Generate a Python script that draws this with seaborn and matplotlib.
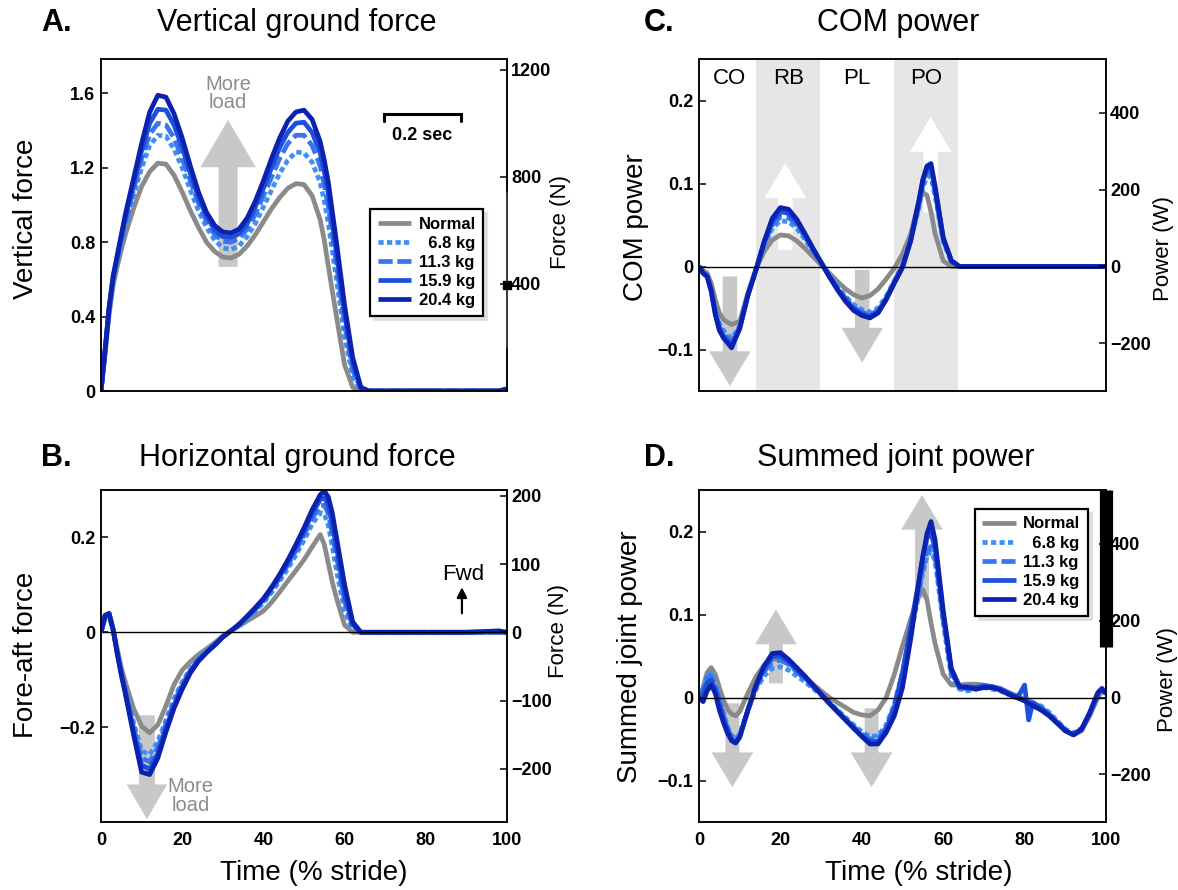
import matplotlib
matplotlib.use("Agg")
import matplotlib.pyplot as plt
import seaborn as sns

sns.set_theme(style="white")
plt.rcParams["font.family"] = ["Liberation Sans", "DejaVu Sans"]
plt.rcParams.update({
    "text.color": "black", "axes.labelcolor": "black",
    "xtick.color": "black", "ytick.color": "black",
    "axes.edgecolor": "black", "axes.linewidth": 1.1,
})

# ---------------- data ----------------
conditions = ["Normal", "  6.8 kg", "11.3 kg", "15.9 kg", "20.4 kg"]
colors = ["#8a8a8a", "#3f8ff7", "#3a74f0", "#1d4fdc", "#0b22b0"]
styles = [(0, ()), (0, (1.1, 0.7)), (0, (3.0, 1.0)), (0, ()), (0, ())]

# time grid (% stride) for panels A-C
pct = [0, 1, 2, 3, 4, 5, 6,
       8, 10, 12, 14, 16, 18, 20, 22, 24, 26, 28, 30, 32, 34, 36, 38, 40, 42, 44, 46, 48, 50, 52, 54,
       55, 56, 57, 58,
       60, 62, 64,
       66, 68, 70, 80, 90, 98, 100]

# A. vertical ground force (body weights)
vert_normal = [0, 0.20, 0.41, 0.57, 0.67, 0.76, 0.84,
               0.98, 1.10, 1.18, 1.225, 1.22, 1.16, 1.07, 0.97, 0.88, 0.80, 0.75, 0.72, 0.715, 0.735, 0.78, 0.84, 0.91, 0.98, 1.04, 1.09, 1.115, 1.11, 1.05, 0.92,
               0.81, 0.67, 0.535, 0.40,
               0.14, 0.02, 0.0,
               0, 0, 0, 0, 0, 0, 0.005]
vert_68 = [0, 0.21, 0.43, 0.59, 0.70, 0.80, 0.89,
           1.05, 1.20, 1.32, 1.375, 1.37, 1.30, 1.20, 1.08, 0.97, 0.88, 0.81, 0.77, 0.76, 0.78, 0.83, 0.90, 0.99, 1.08, 1.17, 1.24, 1.285, 1.28, 1.23, 1.12,
           1.02, 0.90, 0.75, 0.60,
           0.29, 0.08, 0.005,
           0, 0, 0, 0, 0, 0, 0.005]
vert_113 = [0, 0.21, 0.44, 0.60, 0.71, 0.81, 0.91,
            1.08, 1.25, 1.38, 1.44, 1.43, 1.36, 1.25, 1.13, 1.01, 0.91, 0.84, 0.805, 0.80, 0.82, 0.87, 0.95, 1.05, 1.15, 1.25, 1.33, 1.375, 1.375, 1.32, 1.21,
            1.11, 0.99, 0.84, 0.68,
            0.36, 0.11, 0.01,
            0, 0, 0, 0, 0, 0, 0.008]
vert_159 = [0, 0.22, 0.45, 0.61, 0.72, 0.83, 0.93,
            1.11, 1.29, 1.44, 1.515, 1.51, 1.43, 1.31, 1.17, 1.04, 0.94, 0.865, 0.83, 0.825, 0.845, 0.90, 0.99, 1.09, 1.20, 1.31, 1.39, 1.44, 1.445, 1.39, 1.28,
            1.18, 1.06, 0.90, 0.74,
            0.42, 0.15, 0.015,
            0, 0, 0, 0, 0, 0, 0.01]
vert_204 = [0, 0.22, 0.45, 0.62, 0.73, 0.84, 0.95,
            1.14, 1.33, 1.50, 1.59, 1.58, 1.49, 1.36, 1.21, 1.07, 0.96, 0.89, 0.855, 0.85, 0.87, 0.93, 1.02, 1.13, 1.25, 1.36, 1.45, 1.50, 1.51, 1.46, 1.34,
            1.24, 1.12, 0.96, 0.80,
            0.46, 0.18, 0.02,
            0, 0, 0, 0, 0, 0, 0.012]

# B. fore-aft ground force (body weights)
hor_normal = [0.0, 0.03, 0.035, 0.005, -0.035, -0.075, -0.105,
              -0.16, -0.198, -0.212, -0.195, -0.155, -0.11, -0.08, -0.062, -0.047, -0.035, -0.022, -0.008, 0.003, 0.013, 0.024, 0.034, 0.045, 0.063, 0.085, 0.108, 0.13, 0.153, 0.18, 0.206,
              0.185, 0.145, 0.105, 0.072,
              0.015, 0.0, 0.0,
              0, 0, 0, 0, 0, 0, 0]
hor_68 = [0.0, 0.033, 0.037, 0.005, -0.04, -0.082, -0.118,
          -0.19, -0.25, -0.258, -0.23, -0.185, -0.14, -0.105, -0.077, -0.055, -0.04, -0.025, -0.009, 0.003, 0.015, 0.029, 0.045, 0.062, 0.084, 0.108, 0.134, 0.163, 0.194, 0.228, 0.252,
          0.25, 0.225, 0.18, 0.13,
          0.045, 0.005, 0.0,
          0, 0, 0, 0, 0, 0, 0]
hor_113 = [0.0, 0.034, 0.038, 0.005, -0.042, -0.085, -0.122,
           -0.20, -0.265, -0.273, -0.243, -0.193, -0.147, -0.11, -0.08, -0.057, -0.041, -0.026, -0.009, 0.003, 0.016, 0.031, 0.048, 0.066, 0.089, 0.114, 0.142, 0.172, 0.205, 0.24, 0.267,
           0.268, 0.25, 0.205, 0.16,
           0.065, 0.012, 0.0,
           0, 0, 0, 0, 0, 0, 0]
hor_159 = [0.0, 0.035, 0.039, 0.005, -0.044, -0.088, -0.126,
           -0.208, -0.28, -0.289, -0.255, -0.202, -0.154, -0.115, -0.083, -0.059, -0.042, -0.027, -0.01, 0.003, 0.016, 0.033, 0.05, 0.069, 0.092, 0.118, 0.147, 0.178, 0.213, 0.25, 0.28,
           0.284, 0.268, 0.225, 0.18,
           0.078, 0.016, 0.0,
           0, 0, 0, 0, 0, 0.001, 0]
hor_204 = [0.0, 0.036, 0.04, 0.005, -0.045, -0.09, -0.13,
           -0.215, -0.295, -0.300, -0.265, -0.21, -0.16, -0.12, -0.086, -0.061, -0.043, -0.027, -0.01, 0.003, 0.017, 0.034, 0.052, 0.071, 0.095, 0.122, 0.152, 0.185, 0.22, 0.258, 0.29,
           0.298, 0.285, 0.25, 0.20,
           0.10, 0.022, 0.0,
           0, 0, 0, 0, 0, 0.003, 0]

# C. COM power (dimensionless)
com_normal = [0.0, -0.005, -0.008, -0.02, -0.04, -0.056, -0.064,
              -0.07, -0.066, -0.032, -0.003, 0.018, 0.032, 0.038, 0.037, 0.031, 0.022, 0.012, 0.002, -0.008, -0.018, -0.027, -0.034, -0.038, -0.035, -0.027, -0.015, -0.002, 0.015, 0.039, 0.078,
              0.089, 0.086, 0.066, 0.04,
              0.007, 0.0, 0.0,
              0, 0, 0, 0, 0, 0, 0]
com_68 = [0.0, -0.006, -0.01, -0.026, -0.05, -0.068, -0.077,
          -0.087, -0.072, -0.034, -0.004, 0.025, 0.046, 0.055, 0.054, 0.046, 0.033, 0.018, 0.004, -0.01, -0.024, -0.036, -0.046, -0.052, -0.055, -0.05, -0.036, -0.017, 0.002, 0.032, 0.07,
          0.095, 0.108, 0.108, 0.085,
          0.03, 0.006, 0.0,
          0, 0, 0, 0, 0, 0, 0]
com_113 = [0.0, -0.007, -0.011, -0.028, -0.053, -0.072, -0.081,
           -0.091, -0.073, -0.034, -0.004, 0.027, 0.05, 0.06, 0.059, 0.05, 0.036, 0.02, 0.004, -0.011, -0.026, -0.038, -0.049, -0.055, -0.058, -0.053, -0.038, -0.018, 0.001, 0.032, 0.073,
           0.1, 0.113, 0.114, 0.09,
           0.032, 0.006, 0.0,
           0, 0, 0, 0, 0, 0, 0]
com_159 = [0.0, -0.008, -0.012, -0.029, -0.056, -0.075, -0.084,
           -0.095, -0.074, -0.035, -0.004, 0.029, 0.054, 0.066, 0.064, 0.054, 0.038, 0.021, 0.005, -0.012, -0.027, -0.04, -0.051, -0.057, -0.06, -0.055, -0.039, -0.019, -0.001, 0.031, 0.076,
           0.103, 0.117, 0.12, 0.093,
           0.034, 0.007, 0.0,
           0, 0, 0, 0, 0, 0, 0]
com_204 = [0.0, -0.008, -0.012, -0.03, -0.058, -0.077, -0.086,
           -0.098, -0.075, -0.035, -0.004, 0.03, 0.058, 0.071, 0.069, 0.057, 0.04, 0.022, 0.005, -0.012, -0.028, -0.042, -0.053, -0.059, -0.062, -0.056, -0.04, -0.02, -0.001, 0.031, 0.079,
           0.105, 0.121, 0.124, 0.097,
           0.035, 0.007, 0.0,
           0, 0, 0, 0, 0, 0, 0]

# D. summed joint power (dimensionless) on its own time grid
pct_d = [0, 1, 2, 3, 4, 5, 6, 7, 8, 9, 10,
         12, 14, 16, 18, 20, 22, 24, 26, 28, 30, 32, 34, 36, 38, 40, 42, 44, 46, 48, 50, 52, 54,
         55, 56, 57, 58,
         60, 62, 64, 66, 68, 70, 72, 74, 76, 78,
         79, 80, 81, 82,
         84, 86, 88, 90, 92, 94, 96, 98,
         99, 100]
joint_normal = [0.0, 0.012, 0.03, 0.036, 0.028, 0.012, -0.003, -0.014, -0.02, -0.022, -0.017,
                0.005, 0.025, 0.039, 0.046, 0.046, 0.041, 0.033, 0.025, 0.016, 0.008, 0.0, -0.006, -0.012, -0.018, -0.021, -0.022, -0.015, 0.0, 0.028, 0.062, 0.094, 0.122,
                0.13, 0.118, 0.09, 0.065,
                0.028, 0.015, 0.015, 0.016, 0.016, 0.015, 0.013, 0.01, 0.006, 0.002,
                0.0, -0.002, -0.004, -0.006,
                -0.012, -0.02, -0.03, -0.04, -0.045, -0.04, -0.022, 0.0,
                0.008, 0.005]
joint_68 = [0.0, 0.01, 0.028, 0.03, 0.018, 0.0, -0.018, -0.035, -0.046, -0.05, -0.044,
            -0.015, 0.01, 0.026, 0.035, 0.037, 0.033, 0.026, 0.019, 0.011, 0.003, -0.006, -0.015, -0.024, -0.033, -0.041, -0.047, -0.046, -0.033, -0.008, 0.03, 0.075, 0.125,
            0.15, 0.17, 0.176, 0.165,
            0.09, 0.025, 0.01, 0.008, 0.01, 0.012, 0.01, 0.008, 0.004, 0.0,
            -0.002, -0.004, -0.006, -0.008,
            -0.01, -0.018, -0.028, -0.038, -0.043, -0.037, -0.02, 0.002,
            0.008, 0.005]
joint_113 = [0.0, 0.008, 0.024, 0.026, 0.014, -0.004, -0.021, -0.037, -0.048, -0.052, -0.046,
             -0.016, 0.012, 0.031, 0.043, 0.045, 0.04, 0.031, 0.022, 0.013, 0.004, -0.006, -0.016, -0.026, -0.035, -0.044, -0.05, -0.049, -0.036, -0.01, 0.03, 0.08, 0.13,
             0.156, 0.175, 0.182, 0.17,
             0.095, 0.03, 0.012, 0.01, 0.012, 0.014, 0.013, 0.011, 0.006, 0.001,
             -0.001, -0.003, -0.005, -0.007,
             -0.012, -0.02, -0.029, -0.039, -0.044, -0.038, -0.02, 0.003,
             0.009, 0.005]
joint_159 = [0.0, 0.004, 0.018, 0.021, 0.01, -0.008, -0.025, -0.04, -0.05, -0.054, -0.047,
             -0.016, 0.014, 0.035, 0.049, 0.05, 0.043, 0.034, 0.024, 0.014, 0.004, -0.007, -0.017, -0.027, -0.037, -0.046, -0.053, -0.053, -0.039, -0.012, 0.03, 0.085, 0.14,
             0.17, 0.192, 0.198, 0.18,
             0.1, 0.032, 0.013, 0.013, 0.012, 0.014, 0.013, 0.01, 0.006, 0.0,
             0.006, 0.015, -0.027, -0.006,
             -0.013, -0.021, -0.03, -0.04, -0.045, -0.039, -0.019, 0.005,
             0.01, 0.005]
joint_204 = [0.0, -0.005, 0.008, 0.015, 0.005, -0.015, -0.03, -0.043, -0.052, -0.055, -0.048,
             -0.015, 0.015, 0.038, 0.053, 0.054, 0.046, 0.036, 0.026, 0.015, 0.004, -0.007, -0.017, -0.027, -0.037, -0.047, -0.056, -0.056, -0.042, -0.022, 0.012, 0.07, 0.138,
             0.17, 0.197, 0.212, 0.19,
             0.105, 0.035, 0.013, 0.012, 0.01, 0.012, 0.012, 0.009, 0.004, 0.0,
             -0.002, -0.004, -0.007, -0.01,
             -0.015, -0.022, -0.031, -0.04, -0.045, -0.038, -0.018, 0.006,
             0.011, 0.005]

force_per_unit = 695.0     # N per body weight
power_per_unit = 2160.0    # W per dimensionless power unit

# ---------------- figure ----------------
W, H = 1178, 890
fig = plt.figure(figsize=(W / 100, H / 100), dpi=100)


def rect(l, r, t, b):
    return [l / W, 1 - b / H, (r - l) / W, (b - t) / H]


axA = fig.add_axes(rect(101, 507, 59, 391))
axB = fig.add_axes(rect(101, 507, 490, 822))
axC = fig.add_axes(rect(699, 1106, 59, 391))
axD = fig.add_axes(rect(699, 1106, 490, 822))

GRAY_ARROW = "#c8c8c8"


def block_arrow(ax, x, y0, y1, color, tail, hw, hl):
    ax.annotate("", xy=(x, y1), xytext=(x, y0),
                arrowprops=dict(arrowstyle=f"simple,head_length={hl},head_width={hw},tail_width={tail}",
                                color=color, lw=0, mutation_scale=1, shrinkA=0, shrinkB=0),
                zorder=1.5, annotation_clip=False)


def draw_lines(ax, x, series):
    handles = []
    for vals, c, ls, lab in zip(series, colors, styles, conditions):
        sns.lineplot(x=x, y=vals, ax=ax, color=c, linestyle=ls, lw=3.4,
                     errorbar=None, legend=False, zorder=2)
        ln = ax.lines[-1]
        ln.set_label(lab)
        ln.set_solid_joinstyle("round")
        handles.append(ln)
    return handles


def fmt(v):
    return str(v).replace("-", "\u2212")


def style_axes(ax, ylim, yticks, ytl, rlim, rticks, rlabel, rlabel_xy, ylabel, ylabel_xy,
               bottom_labels):
    ax.set_xlim(0, 100)
    ax.set_ylim(*ylim)
    ax.set_yticks(yticks)
    ax.set_yticklabels(ytl)
    if bottom_labels:
        ax.set_xticks([0, 20, 40, 60, 80, 100])
        ax.set_xticklabels(["0", "20", "40", "60", "80", "100"])
        ax.set_xlabel("Time (% stride)", fontsize=20, va="center")
        ax.xaxis.set_label_coords(bottom_labels, -0.154)
    else:
        ax.set_xticks([20, 40, 60, 80])
        ax.set_xticklabels([])
        ax.set_xlabel("")
    ax.set_ylabel(ylabel, fontsize=20, va="center")
    ax.yaxis.set_label_coords(*ylabel_xy)
    ax.tick_params(axis="both", direction="in", length=5, width=1.1, labelsize=13)
    ax.tick_params(axis="y", pad=4)
    ax.tick_params(axis="x", pad=7)
    for s in ax.spines.values():
        s.set_color("black")
        s.set_linewidth(1.1)
    for t in ax.get_xticklabels() + ax.get_yticklabels():
        t.set_fontweight("bold")

    ax2 = ax.twinx()
    ax2.set_ylim(*rlim)
    ax2.set_yticks(rticks)
    ax2.set_yticklabels([fmt(v) for v in rticks])
    ax2.tick_params(axis="y", direction="in", length=5, width=1.1, labelsize=13, pad=3)
    for t in ax2.get_yticklabels():
        t.set_fontweight("bold")
    ax2.set_ylabel(rlabel, fontsize=16, rotation=90, va="center")
    ax2.yaxis.set_label_coords(*rlabel_xy)
    ax2.grid(False)
    ax.grid(False)
    return ax2


def make_legend(ax, handles, anchor):
    leg = ax.legend(handles=handles, loc="upper left", bbox_to_anchor=anchor,
                    frameon=True, fancybox=False, shadow={"ox": 3, "oy": -3, "color": "0.8"},
                    framealpha=1, edgecolor="black", fontsize=12,
                    borderpad=0.45, labelspacing=0.25, handlelength=2.0, handletextpad=0.45,
                    borderaxespad=0)
    leg.get_frame().set_linewidth(1.6)
    for t in leg.get_texts():
        t.set_fontweight("bold")
    leg.set_zorder(10)
    return leg


# ----- Panel A -----
hA = draw_lines(axA, pct, [vert_normal, vert_68, vert_113, vert_159, vert_204])
block_arrow(axA, 31.3, 0.667, 1.457, GRAY_ARROW, 13.7, 40, 34)
axA.text(31.3, 1.60, "More\nload", ha="center", va="center", color="#8c8c8c",
         fontsize=14.5, linespacing=0.95)
axA.plot([69.7, 69.7, 88.7, 88.7], [1.45, 1.49, 1.49, 1.45], color="black", lw=2.2,
         solid_joinstyle="miter")
axA.text(79.2, 1.376, "0.2 sec", ha="center", va="center", fontsize=13, fontweight="bold")
axA2 = style_axes(axA, (0, 1.785), [0, 0.4, 0.8, 1.2, 1.6], ["0", "0.4", "0.8", "1.2", "1.6"],
                  (0, 1.785 * force_per_unit), [400, 800, 1200], "Force (N)", (1.133, 0.509),
                  "Vertical force", (-0.185, 0.518), None)
make_legend(axA, hA, (0.663, 0.548))
axA2.spines["right"].set_visible(False)
axA2.plot([1, 1], [0, 0.126], transform=axA2.transAxes, color="black", lw=1.1, clip_on=False)
axA2.plot([1, 1], [0.598, 1.0], transform=axA2.transAxes, color="black", lw=1.1, clip_on=False)
axA2.plot([1], [0.32], "s", transform=axA2.transAxes, color="black", ms=6, clip_on=False)

# ----- Panel B -----
axB.axhline(0, color="black", lw=1.0, zorder=3)
block_arrow(axB, 11.3, -0.175, -0.394, GRAY_ARROW, 11.5, 29, 25)
hB = draw_lines(axB, pct, [hor_normal, hor_68, hor_113, hor_159, hor_204])
axB.text(22.0, -0.345, "More\nload", ha="center", va="center", color="#8c8c8c",
         fontsize=14.5, linespacing=0.95, zorder=4)
axB.text(89.2, 0.121, "Fwd", ha="center", va="center", fontsize=16)
axB.annotate("", xy=(88.9, 0.095), xytext=(88.9, 0.04),
             arrowprops=dict(arrowstyle="-|>,head_length=0.5,head_width=0.25", color="black",
                             lw=1.6, shrinkA=0, shrinkB=0))
style_axes(axB, (-0.4, 0.3), [-0.2, 0, 0.2], ["\u22120.2", "0", "0.2"],
           (-0.4 * force_per_unit, 0.3 * force_per_unit), [-200, -100, 0, 100, 200],
           "Force (N)", (1.126, 0.575), "Fore-aft force", (-0.185, 0.503), 0.525)

# ----- Panel C -----
axC.axvspan(14.1, 29.7, color="#e6e6e6", lw=0, zorder=0.5)
axC.axvspan(48.0, 63.6, color="#e6e6e6", lw=0, zorder=0.5)
for lab, xpos in zip(["CO", "RB", "PL", "PO"], [7.6, 21.9, 38.7, 55.8]):
    axC.text(xpos, 0.227, lab, ha="center", va="center", fontsize=16)
axC.axhline(0, color="black", lw=1.0, zorder=3)
block_arrow(axC, 7.6, -0.012, -0.144, GRAY_ARROW, 10.5, 30, 25)
block_arrow(axC, 21.2, 0.0197, 0.1245, "white", 10.5, 30, 25)
block_arrow(axC, 40.1, -0.004, -0.1157, GRAY_ARROW, 10.5, 30, 25)
block_arrow(axC, 56.9, 0.065, 0.18, "white", 10.5, 30, 25)
hC = draw_lines(axC, pct, [com_normal, com_68, com_113, com_159, com_204])
style_axes(axC, (-0.15, 0.25), [-0.1, 0, 0.1, 0.2], ["\u22120.1", "0", "0.1", "0.2"],
           (-0.15 * power_per_unit, 0.25 * power_per_unit), [-200, 0, 200, 400],
           "Power (W)", (1.142, 0.43), "COM power", (-0.155, 0.494), None)

# ----- Panel D -----
axD.axhline(0, color="black", lw=1.0, zorder=3)
block_arrow(axD, 8.2, -0.007, -0.108, GRAY_ARROW, 10, 30, 25)
block_arrow(axD, 18.9, 0.017, 0.106, GRAY_ARROW, 10, 30, 25)
block_arrow(axD, 42.4, -0.013, -0.108, GRAY_ARROW, 10, 30, 25)
block_arrow(axD, 54.8, 0.12, 0.244, GRAY_ARROW, 10, 30, 25)
hD = draw_lines(axD, pct_d, [joint_normal, joint_68, joint_113, joint_159, joint_204])
axD2 = style_axes(axD, (-0.15, 0.25), [-0.1, 0, 0.1, 0.2], ["\u22120.1", "0", "0.1", "0.2"],
                  (-0.15 * power_per_unit, 0.25 * power_per_unit), [-200, 0, 200, 400],
                  "Power (W)", (1.15, 0.428), "Summed joint power", (-0.17, 0.497), 0.54)
make_legend(axD, hD, (0.678, 0.943))
axD2.plot([1, 1], [0.527, 1.0], transform=axD2.transAxes, color="black", lw=9.5,
          solid_capstyle="butt", clip_on=False)

# ----- titles and panel letters -----
for (x, y, letter, title, tx) in [(41, 23, "A.", "Vertical ground force", 297),
                                  (41, 458, "B.", "Horizontal ground force", 297),
                                  (644, 23, "C.", "COM power", 898),
                                  (644, 458, "D.", "Summed joint power", 896)]:
    fig.text(x / W, 1 - y / H, letter, ha="left", va="center", fontsize=22, fontweight="bold")
    fig.text(tx / W, 1 - y / H, title, ha="center", va="center", fontsize=22)

fig.savefig("out.png", dpi=100)
